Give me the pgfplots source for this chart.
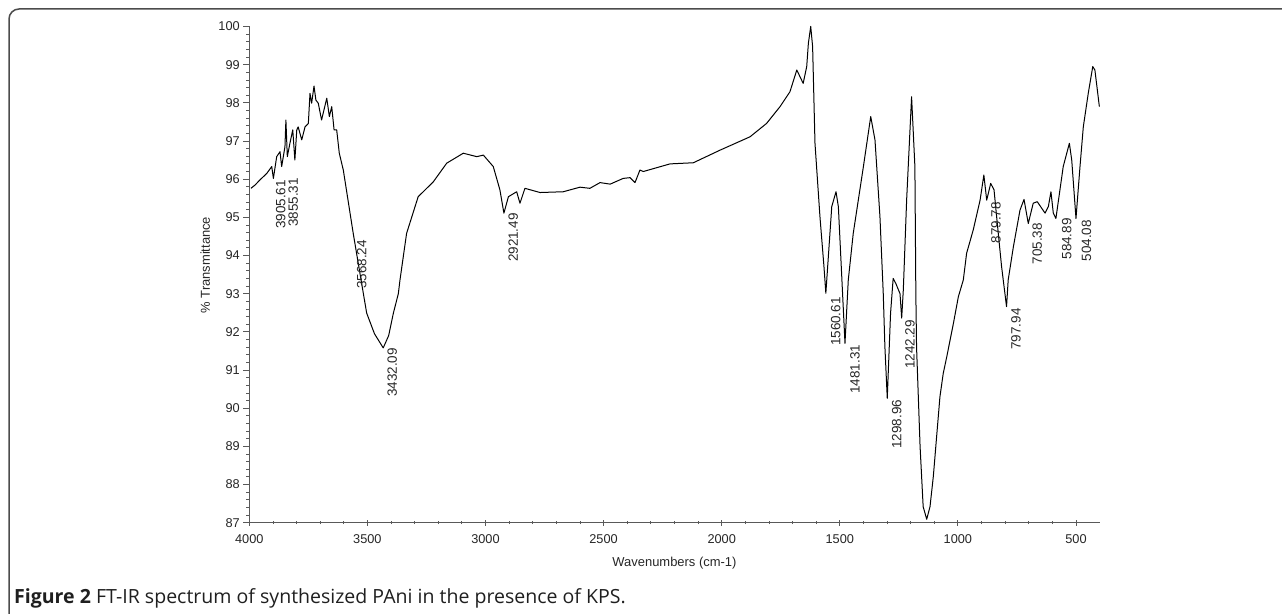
\documentclass[border=0pt]{standalone}
\usepackage{fontspec}
\setmainfont{Liberation Sans}
\newfontfamily\capfont{Open Sans}
\usepackage{pgfplots}
\pgfplotsset{compat=1.18}
\begin{document}
\begin{tikzpicture}[x=1bp,y=1bp]
\useasboundingbox (0,0) rectangle (1282,614);
\draw[line width=1.5bp, black!70, rounded corners=10bp] (9,-5) -- (9,605) -- (1290,605);
\begin{axis}[
  at={(249.3bp,91.3bp)}, anchor=south west,
  scale only axis, width=850.3bp, height=496.2bp,
  xmin=400, xmax=4000, ymin=87, ymax=100, x dir=reverse,
  axis x line=bottom, axis y line=left,
  axis line style={-, black!65, line width=0.8bp},
  xtick={500,1000,...,4000}, minor x tick num=4,
  ytick={87,88,...,100}, minor y tick num=4,
  xtick align=center, ytick align=outside,
  major tick length=6bp, minor tick length=3bp,
  tick style={black!65, line width=0.8bp},
  ticklabel style={font=\fontsize{12.8}{14}\selectfont, text=black!85},
  xticklabel style={yshift=-5bp},
  /pgf/number format/assume math mode=true,
  /pgf/number format/1000 sep={},
  xlabel={Wavenumbers (cm-1)}, ylabel={\% Transmittance},
  xlabel style={at={(axis description cs:0.5,-0.0812)}, anchor=center, font=\fontsize{13}{15}\selectfont, text=black!85},
  ylabel style={at={(axis description cs:-0.0517,0.519)}, anchor=center, font=\fontsize{13}{15}\selectfont, text=black!85},
  clip=false,
]
\addplot[black, line width=1bp, line join=round] coordinates {
(3993,95.76) (3975,95.85) (3955,95.98) (3926,96.15) (3905,96.33) (3898,96.02)
(3884,96.59) (3870,96.72) (3863,96.33) (3849,96.85) (3845,97.55) (3839,96.59)
(3828,96.94) (3816,97.29) (3807,96.50) (3799,97.29) (3793,97.37) (3778,97.03)
(3764,97.37) (3750,97.46) (3743,98.25) (3736,97.99) (3726,98.44) (3718,98.07)
(3708,97.99) (3694,97.55) (3684,97.81) (3672,98.12) (3661,97.64) (3651,97.90)
(3641,97.29) (3630,97.29) (3619,96.68) (3602,96.24) (3560,94.58) (3517,93.00)
(3503,92.49) (3470,91.95) (3433,91.58) (3410,91.90) (3390,92.49) (3369,93.00)
(3362,93.36) (3334,94.58) (3285,95.54) (3221,95.93) (3164,96.42) (3094,96.68)
(3037,96.59) (3009,96.63) (2967,96.33) (2939,95.72) (2922,95.11) (2903,95.54)
(2868,95.67) (2854,95.37) (2833,95.76) (2769,95.65) (2671,95.67) (2600,95.79)
(2558,95.76) (2515,95.91) (2472,95.87) (2417,96.02) (2388,96.04) (2367,95.91)
(2346,96.24) (2332,96.20) (2219,96.40) (2120,96.43) (2007,96.76) (1880,97.11)
(1810,97.46) (1753,97.90) (1711,98.29) (1682,98.86) (1655,98.51) (1640,98.95)
(1633,99.56) (1623,100.0) (1615,99.47) (1605,96.94) (1584,95.02) (1567,93.71)
(1559,93.01) (1534,95.28) (1516,95.67) (1506,95.28) (1478,91.70) (1464,93.36)
(1443,94.58) (1400,96.33) (1369,97.64) (1351,97.03) (1330,95.02) (1316,93.01)
(1309,91.61) (1299,90.26) (1285,92.49) (1274,93.40) (1263,93.27) (1245,93.00)
(1238,92.36) (1231,93.10) (1217,95.45) (1196,98.16) (1182,96.33) (1178,93.01)
(1175,91.61) (1160,88.99) (1147,87.42) (1132,87.09) (1118,87.42) (1104,88.21)
(1076,90.30) (1062,90.91) (1047,91.35) (1019,92.22) (998,92.92) (977,93.36)
(963,94.06) (935,94.67) (906,95.45) (890,96.11) (878,95.45) (861,95.89)
(847,95.72) (829,94.58) (815,93.71) (808,93.36) (794,92.66) (787,93.36)
(765,94.23) (737,95.19) (720,95.47) (702,94.84) (681,95.37) (664,95.41)
(631,95.11) (617,95.28) (606,95.67) (596,95.11) (585,94.97) (554,96.33)
(528,96.94) (518,96.50) (500,94.97) (483,96.33) (469,97.37) (448,98.25)
(429,98.95) (420,98.86) (413,98.51) (401,97.90)
};
\tikzset{pk/.style={rotate=90, anchor=east, inner sep=0pt, font=\fontsize{13.5}{15}\selectfont, text=black!85}}
\node[pk] at (axis cs:3867,95.98) {3905.61};
\node[pk] at (axis cs:3814,96.03) {3855.31};
\node[pk] at (axis cs:3524,94.41) {3568.24};
\node[pk] at (axis cs:3395,91.58) {3432.09};
\node[pk] at (axis cs:2882,95.11) {2921.49};
\node[pk] at (axis cs:1517,92.91) {1560.61};
\node[pk] at (axis cs:1436,91.66) {1481.31};
\node[pk] at (axis cs:1259,90.22) {1298.96};
\node[pk] at (axis cs:1203,92.31) {1242.29};
\node[pk] at (axis cs:839,95.40) {879.78};
\node[pk] at (axis cs:754,92.62) {797.94};
\node[pk] at (axis cs:664,94.85) {705.38};
\node[pk] at (axis cs:539,94.98) {584.89};
\node[pk] at (axis cs:455,94.93) {504.08};
\end{axis}
\node[anchor=base west, inner sep=0pt, font=\capfont\fontsize{19.6}{21}\selectfont, text=black!88] at (14,10) {\textbf{Figure 2} FT-IR spectrum of synthesized PAni in the presence of KPS.};
\end{tikzpicture}
\end{document}
